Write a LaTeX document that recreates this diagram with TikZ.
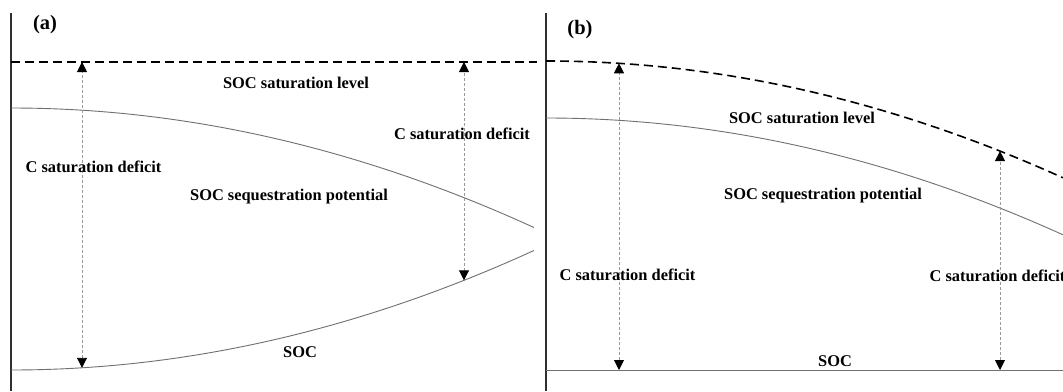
\documentclass[tikz,border=0pt]{standalone}
\usepackage{fontspec}
\setmainfont{Liberation Serif}
\usetikzlibrary{arrows.meta}
\definecolor{axiscol}{HTML}{303030}
\definecolor{curvecol}{HTML}{707070}
\definecolor{shaftcol}{HTML}{9A9A9A}
\tikzset{
  axisline/.style={draw=axiscol, line width=1.8pt},
  levelline/.style={draw=black, line width=1.6pt, dash pattern=on 9pt off 5pt},
  soccurve/.style={draw=curvecol, line width=0.9pt},
  deficit/.style={draw=shaftcol, line width=0.9pt, dash pattern=on 3pt off 2pt,
    {Triangle[length=10pt,width=10pt,color=black]}-{Triangle[length=10pt,width=10pt,color=black]}},
  lbl/.style={font=\bfseries\fontsize{16.4}{19}\selectfont, inner sep=0pt, anchor=base},
  panel/.style={font=\bfseries\fontsize{20.5}{24}\selectfont, inner sep=0pt, anchor=base}
}
\begin{document}
\begin{tikzpicture}[x=1pt,y=-1pt]
\useasboundingbox (0,0) rectangle (1063,391);
\fill[white] (0,0) rectangle (1063,391);
% ---------- panel (a) ----------
\draw[axisline] (11,13) -- (11,391);
\draw[levelline] (11,62) -- (537,62);
\draw[soccurve] plot[domain=0:5.23, samples=80] ({11+100*\x},{108+4.37*\x*\x});
\draw[soccurve] plot[domain=0:5.23, samples=80] ({11+100*\x},{370-4.37*\x*\x});
\coordinate (aLt) at (82,62);
\coordinate (aLb) at (82,367.8);
\coordinate (aRt) at (464,62);
\coordinate (aRb) at (464,280.3);
\draw[deficit] (aLb) -- (aLt);
\draw[deficit] (aRb) -- (aRt);
\node[panel] (pa) at (45,29) {(a)};
\node[lbl] (aLevel) at (296,88) {SOC saturation level};
\node[lbl] (aDefR) at (462,139) {C saturation deficit};
\node[lbl] (aDefL) at (93.5,172) {C saturation deficit};
\node[lbl] (aPot) at (289,200) {SOC sequestration potential};
\node[lbl] (aSOC) at (300,357) {SOC};
% ---------- panel (b) ----------
\draw[axisline] (546,13) -- (546,391);
\draw[levelline] plot[domain=0:5.17, samples=80] ({546+100*\x},{61+4.37*\x*\x});
\draw[soccurve] plot[domain=0:5.17, samples=80] ({546+100*\x},{118+4.37*\x*\x});
\draw[soccurve] (546,370) -- (1063,370);
\coordinate (bLt) at (619,63.3);
\coordinate (bLb) at (619,370);
\coordinate (bRt) at (1000,151.1);
\coordinate (bRb) at (1000,370);
\draw[deficit] (bLb) -- (bLt);
\draw[deficit] (bRb) -- (bRt);
\node[panel] (pb) at (580,34) {(b)};
\node[lbl] (bLevel) at (802,123) {SOC saturation level};
\node[lbl] (bPot) at (823,199) {SOC sequestration potential};
\node[lbl] (bDefL) at (627.5,280) {C saturation deficit};
\node[lbl] (bDefR) at (997.5,281) {C saturation deficit};
\node[lbl] (bSOC) at (835,366) {SOC};
\end{tikzpicture}
\end{document}
